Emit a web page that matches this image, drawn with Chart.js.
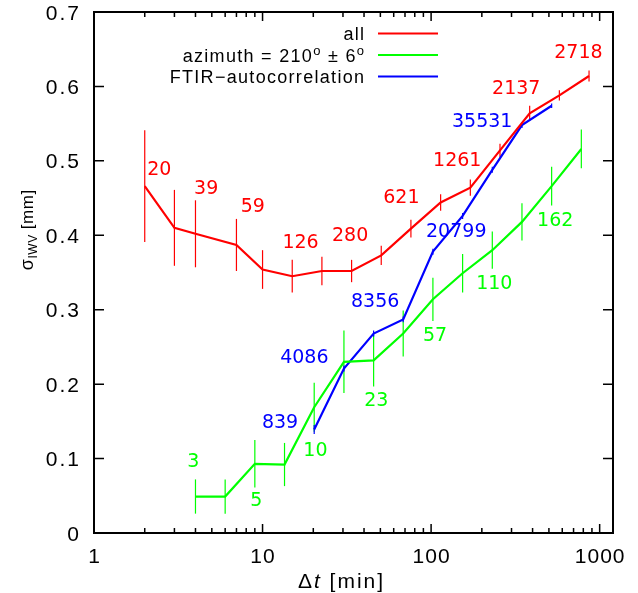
<!DOCTYPE html>
<html>
<head>
<meta charset="utf-8">
<script src="https://cdn.jsdelivr.net/npm/chart.js@4.4.1/dist/chart.umd.min.js"></script>
<style>
  html, body { margin: 0; padding: 0; background: #fff; }
  #wrap { width: 638px; height: 593px; }
</style>
</head>
<body>
<div id="wrap"><canvas id="myChart"></canvas></div>
<script>
// "all" series (red)
var allX = [2, 3, 4, 7, 10, 15, 22.5, 33.75, 50.6, 75.9, 113.9, 170.9, 256.3, 384.4, 576.7, 865];
var allY = [0.466, 0.410, 0.402, 0.387, 0.354, 0.345, 0.352, 0.352, 0.373, 0.409, 0.444, 0.464, 0.514, 0.564, 0.588, 0.614];
var allErr = [0.075, 0.051, 0.045, 0.035, 0.026, 0.022, 0.019, 0.015, 0.013, 0.012, 0.011, 0.011, 0.009, 0.010, 0.007, 0.0075];

// "azimuth" series (green)
var aziX = [4, 6, 9, 13.5, 20.25, 30.4, 45.6, 68.3, 102.5, 153.8, 230.7, 346, 519, 778.5];
var aziY = [0.049, 0.049, 0.093, 0.092, 0.169, 0.230, 0.232, 0.268, 0.314, 0.349, 0.380, 0.418, 0.466, 0.516];
var aziErr = [0.023, 0.023, 0.032, 0.029, 0.033, 0.042, 0.035, 0.031, 0.029, 0.026, 0.025, 0.025, 0.026, 0.026];

// FTIR autocorrelation (blue)
var ftirX = [20.25, 30.4, 45.6, 68.3, 102.5, 153.8, 230.7, 346, 519];
var ftirY = [0.139, 0.221, 0.268, 0.287, 0.378, 0.426, 0.488, 0.548, 0.574];
var ftirErr = [0.006, 0.004, 0.004, 0.004, 0.004, 0.004, 0.004, 0.004, 0.003];

// number annotations next to the curves
var allNums = ["20", "39", "59", "126", "280", "621", "1261", "2137", "2718"];
var allNumX = [2.44, 4.63, 8.75, 16.8, 33.1, 66.6, 143, 320, 748];
var allNumY = [0.488, 0.462, 0.438, 0.390, 0.399, 0.450, 0.500, 0.597, 0.645];

var aziNums = ["3", "5", "10", "23", "57", "110", "162"];
var aziNumX = [3.88, 9.18, 20.6, 47.3, 105.5, 237, 545];
var aziNumY = [0.095, 0.043, 0.110, 0.177, 0.265, 0.335, 0.419];

var ftirNums = ["839", "4086", "8356", "20799", "35531"];
var ftirNumX = [12.7, 17.7, 46.6, 141, 201];
var ftirNumY = [0.148, 0.235, 0.310, 0.404, 0.552];

// axes
var xTicks = [1, 10, 100, 1000];
var xTickLabels = ["1", "10", "100", "1000"];
var xMinorTicks = [2, 3, 4, 5, 6, 7, 8, 9, 20, 30, 40, 50, 60, 70, 80, 90, 200, 300, 400, 500, 600, 700, 800, 900];
var yTicks = [0, 0.1, 0.2, 0.3, 0.4, 0.5, 0.6, 0.7];
var yTickLabels = ["0", "0.1", "0.2", "0.3", "0.4", "0.5", "0.6", "0.7"];

var RED = "#ff0000", GREEN = "#00ff00", BLUE = "#0000ff";
var SANS = '"Liberation Sans", Arial, sans-serif';
var NUMFONT = '"DejaVu Sans", sans-serif';

function pts(xs, ys) {
  return xs.map(function (x, i) { return { x: x, y: ys[i] }; });
}

// draws text pieces one char at a time with extra spacing
function pieceWidth(ctx, p, gap) {
  ctx.font = p.font;
  var w = 0;
  for (var i = 0; i < p.t.length; i++) w += ctx.measureText(p.t[i]).width + gap;
  return w;
}
function drawRich(ctx, pieces, x, y, align, gap, color) {
  var total = 0;
  pieces.forEach(function (p) { total += pieceWidth(ctx, p, gap); });
  total -= gap;
  var cx = align === "right" ? x - total : align === "center" ? x - total / 2 : x;
  ctx.save();
  ctx.fillStyle = color || "#000";
  ctx.textAlign = "left";
  ctx.textBaseline = "alphabetic";
  pieces.forEach(function (p) {
    ctx.font = p.font;
    for (var i = 0; i < p.t.length; i++) {
      ctx.fillText(p.t[i], cx, y + (p.dy || 0));
      cx += ctx.measureText(p.t[i]).width + gap;
    }
  });
  ctx.restore();
}

var errorBars = {
  id: "errorBars",
  beforeDatasetsDraw: function (chart) {
    var ctx = chart.ctx, sx = chart.scales.x, sy = chart.scales.y;
    var sets = [[allX, allY, allErr, RED], [aziX, aziY, aziErr, GREEN], [ftirX, ftirY, ftirErr, BLUE]];
    ctx.save();
    ctx.lineWidth = 1.2;
    sets.forEach(function (s) {
      ctx.strokeStyle = s[3];
      for (var i = 0; i < s[0].length; i++) {
        var px = sx.getPixelForValue(s[0][i]);
        ctx.beginPath();
        ctx.moveTo(px, sy.getPixelForValue(s[1][i] - s[2][i]));
        ctx.lineTo(px, sy.getPixelForValue(s[1][i] + s[2][i]));
        ctx.stroke();
      }
    });
    ctx.restore();
  }
};

var decorations = {
  id: "decorations",
  afterDraw: function (chart) {
    var ctx = chart.ctx, sx = chart.scales.x, sy = chart.scales.y, a = chart.chartArea;

    // number labels
    ctx.save();
    ctx.font = "19px " + NUMFONT;
    ctx.textAlign = "center";
    ctx.textBaseline = "middle";
    [[allNums, allNumX, allNumY, RED], [aziNums, aziNumX, aziNumY, GREEN], [ftirNums, ftirNumX, ftirNumY, BLUE]].forEach(function (s) {
      ctx.fillStyle = s[3];
      for (var i = 0; i < s[0].length; i++) {
        ctx.fillText(s[0][i], sx.getPixelForValue(s[1][i]), sy.getPixelForValue(s[2][i]));
      }
    });
    ctx.restore();

    // frame and inward ticks
    ctx.save();
    ctx.strokeStyle = "#000";
    ctx.lineWidth = 1.5;
    ctx.beginPath();
    xTicks.forEach(function (v) {
      var px = sx.getPixelForValue(v);
      ctx.moveTo(px, a.bottom); ctx.lineTo(px, a.bottom - 9);
      ctx.moveTo(px, a.top); ctx.lineTo(px, a.top + 9);
    });
    xMinorTicks.forEach(function (v) {
      var px = sx.getPixelForValue(v);
      ctx.moveTo(px, a.bottom); ctx.lineTo(px, a.bottom - 5);
      ctx.moveTo(px, a.top); ctx.lineTo(px, a.top + 5);
    });
    yTicks.forEach(function (v) {
      var py = sy.getPixelForValue(v);
      ctx.moveTo(a.left, py); ctx.lineTo(a.left + 10, py);
      ctx.moveTo(a.right, py); ctx.lineTo(a.right - 10, py);
    });
    ctx.stroke();
    ctx.lineWidth = 2;
    ctx.strokeRect(a.left, a.top, a.right - a.left, a.bottom - a.top);
    ctx.restore();

    // tick labels
    var tickFont = "21px " + SANS;
    yTicks.forEach(function (v, i) {
      drawRich(ctx, [{ t: yTickLabels[i], font: tickFont }], a.left - 15, sy.getPixelForValue(v) + 7.5, "right", 2);
    });
    xTicks.forEach(function (v, i) {
      drawRich(ctx, [{ t: xTickLabels[i], font: tickFont }], sx.getPixelForValue(v), a.bottom + 30, "center", 1);
    });

    // axis titles
    drawRich(ctx, [
      { t: "\u0394", font: "21px " + SANS },
      { t: "t", font: "italic 21px " + SANS },
      { t: " [min]", font: "21px " + SANS }
    ], (a.left + a.right) / 2 - 13, a.bottom + 55, "center", 2);

    ctx.save();
    ctx.translate(33, 230);
    ctx.rotate(-Math.PI / 2);
    drawRich(ctx, [
      { t: "\u03c3", font: "18px " + SANS },
      { t: "IWV", font: "12px " + SANS, dy: 4 },
      { t: " [mm]", font: "17px " + SANS }
    ], 0, 0, "center", 0.5);
    ctx.restore();

    // legend
    var legendFont = "18px " + SANS, supFont = "13px " + SANS;
    var rows = [
      { pieces: [{ t: "all", font: legendFont }], color: RED },
      { pieces: [{ t: "azimuth = 210", font: legendFont }, { t: "o", font: supFont, dy: -7 },
                 { t: " \u00b1 6", font: legendFont }, { t: "o", font: supFont, dy: -7 }], color: GREEN },
      { pieces: [{ t: "FTIR\u2212autocorrelation", font: legendFont }], color: BLUE }
    ];
    var rowY = [33.5, 55, 76.5];
    rows.forEach(function (r, i) {
      drawRich(ctx, r.pieces, 364, rowY[i] + 6.5, "right", 1.3);
      ctx.save();
      ctx.strokeStyle = r.color;
      ctx.lineWidth = 2;
      ctx.beginPath();
      ctx.moveTo(378, rowY[i]);
      ctx.lineTo(438, rowY[i]);
      ctx.stroke();
      ctx.restore();
    });
  }
};

var ctx = document.getElementById("myChart").getContext("2d");
var myChart = new Chart(ctx, {
  type: "line",
  data: {
    datasets: [
      { label: "all", data: pts(allX, allY), borderColor: RED },
      { label: "azimuth = 210\u00b0 \u00b1 6\u00b0", data: pts(aziX, aziY), borderColor: GREEN },
      { label: "FTIR-autocorrelation", data: pts(ftirX, ftirY), borderColor: BLUE }
    ]
  },
  options: {
    responsive: true,
    maintainAspectRatio: false,
    devicePixelRatio: 1,
    animation: false,
    layout: { padding: { left: 94, right: 25, top: 12, bottom: 60 } },
    elements: {
      line: { borderWidth: 2.2, tension: 0, fill: false },
      point: { radius: 0, hoverRadius: 0 }
    },
    plugins: { legend: { display: false }, tooltip: { enabled: false } },
    scales: {
      x: { type: "logarithmic", min: 1, max: 1200, display: false },
      y: { type: "linear", min: 0, max: 0.7, display: false }
    }
  },
  plugins: [errorBars, decorations]
});
</script>
</body>
</html>
